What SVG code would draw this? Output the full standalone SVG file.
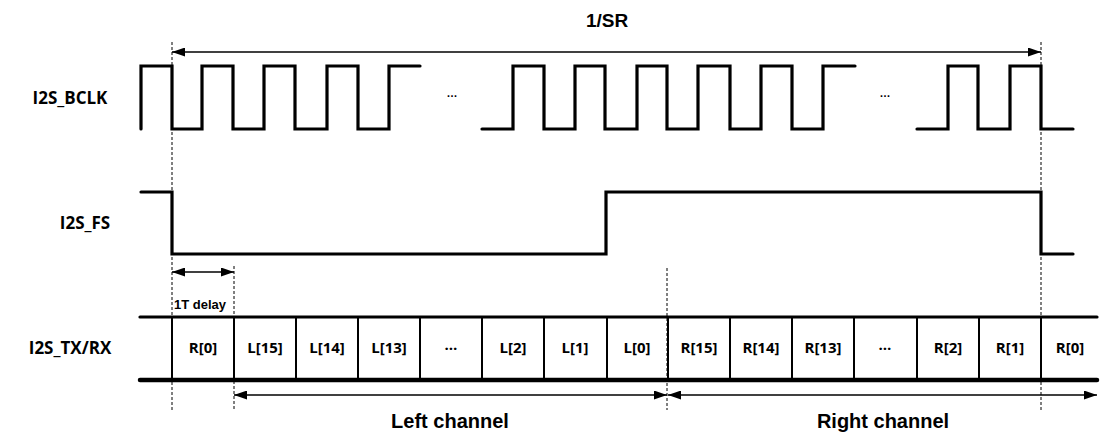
<svg xmlns="http://www.w3.org/2000/svg" width="1101" height="442" viewBox="0 0 1101 442">
<style>
.sig{fill:none;stroke:#000;stroke-width:3.2;stroke-linecap:round;stroke-linejoin:miter}
.bus{fill:none;stroke:#000;stroke-linecap:round}
.div{stroke:#000;stroke-width:2}
.dash{stroke:#000;stroke-width:1;stroke-dasharray:3,2;fill:none}
.arr{stroke:#000;stroke-width:1.4;fill:none;marker-start:url(#ah);marker-end:url(#ah)}
.lbl{font-family:"Open Sans","Liberation Sans",sans-serif;font-weight:bold;font-size:17px;fill:#000;text-anchor:middle}
.cell{font-family:"Open Sans","Liberation Sans",sans-serif;font-weight:bold;font-size:15px;fill:#000;text-anchor:middle}
.ar{font-family:"Liberation Sans",Arial,sans-serif;font-weight:bold;fill:#000}
</style>
<defs>
<marker id="ah" viewBox="0 0 13 9" refX="13" refY="4.5" markerWidth="13" markerHeight="9" markerUnits="userSpaceOnUse" orient="auto-start-reverse">
<path d="M0,0 L13,4.5 L0,9 z" fill="#000"/>
</marker>
</defs>
<g id="labels">
<text class="lbl" x="70" y="104">I2S_BCLK</text>
<text class="lbl" x="85" y="229">I2S_FS</text>
<text class="lbl" x="70" y="354">I2S_TX/RX</text>
</g>
<g id="guides">
<line class="dash" x1="172" y1="42" x2="172" y2="410"/>
<line class="dash" x1="1041" y1="42" x2="1041" y2="410"/>
<line class="dash" x1="667" y1="268" x2="667" y2="410"/>
<line class="dash" x1="234" y1="266" x2="234" y2="410"/>
</g>
<g id="bclk">
<path class="sig" d="M141,129 V66 H172 V129 H202 V66 H233 V129 H264 V66 H295 V129 H327 V66 H358 V129 H389 V66 H420"/>
<path class="sig" d="M482,129 H513 V66 H544 V129 H575 V66 H605 V129 H637 V66 H667 V129 H698 V66 H730 V129 H761 V66 H792 V129 H823 V66 H855"/>
<path class="sig" d="M917,129 H948 V66 H978 V129 H1010 V66 H1041 V129 H1073"/>
<text class="ar" x="452" y="97" font-size="11" text-anchor="middle">…</text>
<text class="ar" x="885" y="97" font-size="11" text-anchor="middle">…</text>
</g>
<g id="fs">
<path class="sig" d="M141,192 H172 V254 H606 V192 H1041 V254 H1073"/>
</g>
<g id="txrx">
<line class="bus" x1="140" y1="317" x2="1097" y2="317" stroke-width="3.2"/>
<line class="bus" x1="140" y1="380" x2="1097" y2="380" stroke-width="4.5"/>
<g class="div">
<line x1="172" y1="317" x2="172" y2="380"/>
<line x1="234" y1="317" x2="234" y2="380"/>
<line x1="296" y1="317" x2="296" y2="380"/>
<line x1="358" y1="317" x2="358" y2="380"/>
<line x1="420" y1="317" x2="420" y2="380"/>
<line x1="482" y1="317" x2="482" y2="380"/>
<line x1="544" y1="317" x2="544" y2="380"/>
<line x1="607" y1="317" x2="607" y2="380"/>
<line x1="668" y1="317" x2="668" y2="380"/>
<line x1="730" y1="317" x2="730" y2="380"/>
<line x1="792" y1="317" x2="792" y2="380"/>
<line x1="854" y1="317" x2="854" y2="380"/>
<line x1="917" y1="317" x2="917" y2="380"/>
<line x1="979" y1="317" x2="979" y2="380"/>
<line x1="1041" y1="317" x2="1041" y2="380"/>
</g>
<text class="cell" x="203" y="353">R[0]</text>
<text class="cell" x="265" y="353">L[15]</text>
<text class="cell" x="327" y="353">L[14]</text>
<text class="cell" x="389" y="353">L[13]</text>
<text class="cell" x="451" y="350">…</text>
<text class="cell" x="513" y="353">L[2]</text>
<text class="cell" x="575" y="353">L[1]</text>
<text class="cell" x="637" y="353">L[0]</text>
<text class="cell" x="699" y="353">R[15]</text>
<text class="cell" x="761" y="353">R[14]</text>
<text class="cell" x="823" y="353">R[13]</text>
<text class="cell" x="885" y="350">…</text>
<text class="cell" x="948" y="353">R[2]</text>
<text class="cell" x="1010" y="353">R[1]</text>
<text class="cell" x="1070" y="353">R[0]</text>
</g>
<g id="connectors">
<line class="arr" x1="172" y1="52" x2="1041" y2="52"/>
<line class="arr" x1="172" y1="272" x2="234" y2="272"/>
<line class="arr" x1="234" y1="395" x2="667" y2="395"/>
<line class="arr" x1="668" y1="395" x2="1097" y2="395"/>
</g>
<g id="annotations">
<text class="ar" x="607" y="27" font-size="19" text-anchor="middle">1/SR</text>
<text class="ar" x="174" y="309" font-size="13">1T delay</text>
<text class="ar" x="450" y="428" font-size="20" text-anchor="middle">Left channel</text>
<text class="ar" x="883" y="428" font-size="20" text-anchor="middle">Right channel</text>
</g>
</svg>
